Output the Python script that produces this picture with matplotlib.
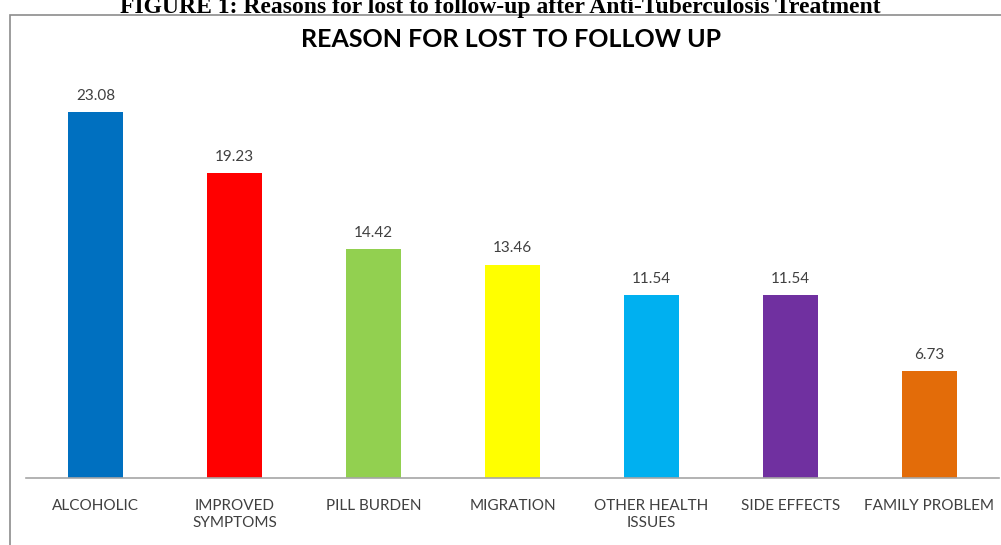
import matplotlib
matplotlib.use("Agg")
import matplotlib.pyplot as plt
from matplotlib.patches import Rectangle

categories = ["ALCOHOLIC", "IMPROVED\nSYMPTOMS", "PILL BURDEN", "MIGRATION",
              "OTHER HEALTH\nISSUES", "SIDE EFFECTS", "FAMILY PROBLEM"]
values = [23.08, 19.23, 14.42, 13.46, 11.54, 11.54, 6.73]
colors = ["#0070C0", "#FF0000", "#92D050", "#FFFF00", "#00B0F0", "#7030A0", "#E36C09"]
value_labels = ["23.08", "19.23", "14.42", "13.46", "11.54", "11.54", "6.73"]

W, H = 1001, 545
fig = plt.figure(figsize=(W / 100, H / 100), dpi=100)
fig.patch.set_facecolor("white")

# outer border box
fig.patches.append(Rectangle((9.5 / W, -0.05), 1.2, (H - 14.5) / H + 0.05,
                             transform=fig.transFigure, fill=False,
                             edgecolor="#8c8c8c", linewidth=1.2))

# caption at top (partly cut off in the original)
fig.text(0.5, 1 - 12.5 / H, "FIGURE 1: Reasons for lost to follow-up after Anti-Tuberculosis Treatment",
         ha="center", va="baseline", fontsize=17, fontweight="bold",
         family="Liberation Serif", color="black")

ax = fig.add_axes([26 / W, (H - 478) / H, 973 / W, (478 - 81.5) / H])
x = list(range(len(categories)))
ax.bar(x, values, width=0.4, color=colors)
for xi, v, lab in zip(x, values, value_labels):
    ax.annotate(lab, (xi, v), xytext=(0, 6.5), textcoords="offset points",
                ha="center", va="bottom", fontsize=11, family="Lato", color="#404040")

ax.set_xlim(-0.5, len(categories) - 0.5)
ax.set_ylim(0, 25)
ax.set_yticks([])
ax.set_xticks(x)
ax.set_xticklabels(categories, fontsize=11, family="Lato", color="#404040",
                   linespacing=1.3, va="top")
ax.tick_params(axis="x", length=0, pad=15)
for s in ["top", "right", "left"]:
    ax.spines[s].set_visible(False)
ax.spines["bottom"].set_color("#a6a6a6")
ax.spines["bottom"].set_linewidth(1.2)

fig.text(511 / W, 1 - 39 / H, "REASON FOR LOST TO FOLLOW UP", ha="center", va="center",
         fontsize=18, fontweight="bold", family="Lato", color="black")

fig.savefig("out.png", dpi=100, facecolor="white")
